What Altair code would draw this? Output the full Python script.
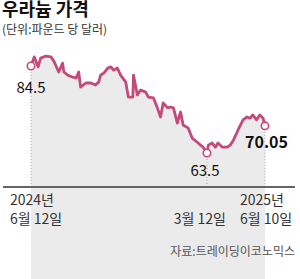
import altair as alt
import pandas as pd

dates = [
    "2024-06-12", "2024-06-17", "2024-06-23", "2024-06-27", "2024-07-05", "2024-07-13",
    "2024-07-18", "2024-07-25", "2024-07-31", "2024-08-02", "2024-08-08", "2024-08-16",
    "2024-08-21", "2024-08-25", "2024-08-28", "2024-09-05", "2024-09-13", "2024-09-20",
    "2024-09-25", "2024-09-28", "2024-10-03", "2024-10-09", "2024-10-14", "2024-10-18",
    "2024-10-24", "2024-10-29", "2024-11-06", "2024-11-10", "2024-11-17", "2024-11-18",
    "2024-11-24", "2024-11-29", "2024-12-07", "2024-12-11", "2024-12-19", "2024-12-25",
    "2024-12-30", "2025-01-03", "2025-01-10", "2025-01-14", "2025-01-19", "2025-01-25",
    "2025-01-30", "2025-02-03", "2025-02-11", "2025-02-17", "2025-02-25", "2025-03-02",
    "2025-03-06", "2025-03-12", "2025-03-14", "2025-03-20", "2025-03-25", "2025-03-29",
    "2025-04-05", "2025-04-12", "2025-04-17", "2025-04-22", "2025-04-29", "2025-05-07",
    "2025-05-13", "2025-05-18", "2025-05-22", "2025-05-28", "2025-06-02", "2025-06-07",
    "2025-06-10",
]
prices = [
    84.5, 86.7, 84.3, 86.4, 86.9, 86.7,
    85.5, 83.05, 85.2, 83.05, 82.3, 81.8,
    81.6, 83.05, 79.4, 80.4, 80.4, 79.9,
    80.6, 82.3, 82.8, 84.0, 84.3, 83.5,
    84.0, 82.3, 80.6, 77.0, 77.0, 82.3,
    77.5, 78.7, 78.2, 77.0, 76.8, 74.4,
    72.2, 75.6, 74.4, 74.6, 74.4, 70.7,
    73.4, 70.25, 69.5, 67.1, 66.1, 65.4,
    64.9, 63.5, 65.4, 65.9, 64.9, 65.9,
    64.9, 64.9, 65.4, 66.6, 69.0, 71.5,
    72.2, 71.9, 72.7, 71.5, 72.7, 71.9,
    70.05,
]

mark_dates = ["2024-06-12", "2025-03-12", "2025-06-10"]
mark_values = [84.5, 63.5, 70.05]
mark_labels = ["84.5", "63.5", "70.05"]

axis_line1 = ["2024년", "", "2025년"]
axis_line2 = ["6월 12일", "3월 12일", "6월 10일"]

title = "우라늄 가격"
subtitle = "(단위:파운드 당 달러)"
source = "자료:트레이딩이코노믹스"

LINE = "#c44a7c"
FONT = "Noto Sans CJK KR"
BASE_Y = 187

df = pd.DataFrame({"date": dates, "price": prices})
mk = pd.DataFrame({"date": mark_dates, "price": mark_values, "label": mark_labels,
                   "l1": axis_line1, "l2": axis_line2})

x = alt.X("date:T", axis=None,
          scale=alt.Scale(domain=[alt.DateTime(year=2024, month=6, date=12, utc=True),
                                  alt.DateTime(year=2025, month=6, date=10, utc=True)],
                          range=[31, 265]))
y = alt.Y("price:Q", axis=None,
          scale=alt.Scale(domain=[63.5, 84.5], range=[153, 66], zero=False, nice=False))

base = alt.Chart(df)

area = base.mark_area(color="#ebebeb").encode(x=x, y=y, y2=alt.value(BASE_Y))
line = base.mark_line(color=LINE, strokeWidth=2.8, strokeJoin="round").encode(x=x, y=y)

mbase = alt.Chart(mk)
drops = mbase.mark_rule(color="#aaaaaa", strokeDash=[1, 2], strokeWidth=1).encode(
    x=x, y=y, y2=alt.value(BASE_Y))
baseline = alt.Chart(df).mark_rule(color="#666666", strokeWidth=1).encode(
    x=alt.value(3), x2=alt.value(295), y=alt.value(BASE_Y))
pts = mbase.mark_point(filled=True, fill="white", stroke=LINE, strokeWidth=1.6,
                       size=55, opacity=1).encode(x=x, y=y)

def ptlabel(i, **kw):
    sub = mk.iloc[[i]]
    return alt.Chart(sub).mark_text(font=FONT, color="#111111", **kw).encode(
        x=x, y=y, text="label:N")

lab0 = ptlabel(0, fontSize=15, dy=22, align="center", baseline="middle")
lab1 = ptlabel(1, fontSize=15, dy=18, align="center", baseline="middle", dx=-2)
lab2 = ptlabel(2, fontSize=16, fontWeight="bold", dy=17, dx=-20, align="left",
               baseline="middle")

def axlab(i, align, dx):
    sub = mk.iloc[[i]]
    a = alt.Chart(sub).mark_text(font=FONT, fontSize=14, color="#333333", align=align,
                                 dx=dx, baseline="alphabetic").encode(
        x=x, y=alt.value(205), text="l1:N")
    b = alt.Chart(sub).mark_text(font=FONT, fontSize=14, color="#333333", align=align,
                                 dx=dx, baseline="alphabetic").encode(
        x=x, y=alt.value(224), text="l2:N")
    return a + b

ax0 = axlab(0, "left", -21)
ax1 = axlab(1, "right", 19)
ax2 = axlab(2, "left", -25)

txt = pd.DataFrame({"t": [title]})
ttl = alt.Chart(txt).mark_text(font=FONT, fontSize=18, fontWeight="bold", color="#111111",
                               align="left", baseline="alphabetic").encode(
    x=alt.value(2), y=alt.value(16), text="t:N")
sub = alt.Chart(pd.DataFrame({"t": [subtitle]})).mark_text(
    font=FONT, fontSize=12, color="#333333", align="left", baseline="alphabetic").encode(
    x=alt.value(2), y=alt.value(34), text="t:N")
src = alt.Chart(pd.DataFrame({"t": [source]})).mark_text(
    font=FONT, fontSize=12, color="#555555", align="right", baseline="alphabetic").encode(
    x=alt.value(295), y=alt.value(256), text="t:N")

chart = alt.layer(
    area, drops, baseline, line, pts, lab0, lab1, lab2, ax0, ax1, ax2, ttl, sub, src
).properties(
    width=300, height=279, padding=0, autosize=alt.AutoSizeParams(type="none"),
    background="white"
).configure_view(stroke=None)

chart.save("out.html", embed_options={"renderer": "svg", "actions": False})
